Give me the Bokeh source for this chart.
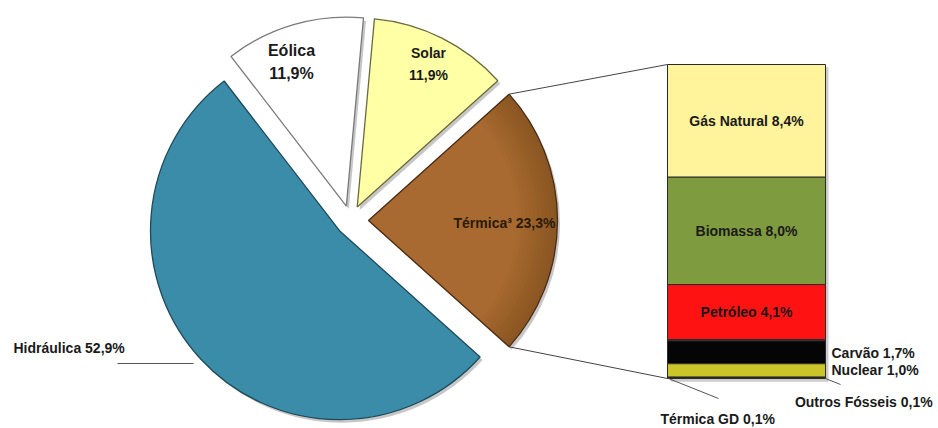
import numpy as np
from bokeh.plotting import figure
from bokeh.models import Range1d, ColumnDataSource
from bokeh.core.properties import value
from bokeh.embed import file_html
from bokeh.resources import INLINE

# ---------------- data ----------------
pie_labels = ["Térmica", "Solar", "Eólica", "Hidráulica"]
pie_values = [23.3, 11.9, 11.9, 52.9]
pie_texts = ["Térmica³ 23,3%", "Solar\n11,9%", "Eólica\n11,9%", "Hidráulica 52,9%"]
pie_colors = ["#A86A31", "#FFFFA6", "#FFFFFF", "#3A8CA8"]
pie_lines = ["#4A2A10", "#6B6B3A", "#7A7A7A", "#1E4A5A"]

bar_labels = ["Gás Natural", "Biomassa", "Petróleo", "Outros Fósseis", "Carvão", "Nuclear", "Térmica GD"]
bar_values = [8.4, 8.0, 4.1, 0.1, 1.7, 1.0, 0.1]
bar_texts = ["Gás Natural 8,4%", "Biomassa 8,0%", "Petróleo 4,1%", "Outros Fósseis  0,1%",
             "Carvão 1,7%", "Nuclear 1,0%", "Térmica GD 0,1%"]
bar_colors = ["#FFF39C", "#7F9B3F", "#FF1212", "#2E6470", "#050505", "#CBC52A", "#101010"]

# ---------------- layout ----------------
W, H = 938, 428
FONT = value("Liberation Sans")
TXT = "#1A1A1A"
FS = "14px"

p = figure(width=W, height=H, output_backend="svg", toolbar_location=None,
           x_range=Range1d(0, W), y_range=Range1d(0, H),
           x_axis_location=None, y_axis_location=None, min_border=0)
p.outline_line_color = None
p.grid.visible = False
p.background_fill_color = "white"

cx, cy, R = 350.0, H - 220.0, 189.0
explode = [18, 15, 15, 15]

total = sum(pie_values)
fr = np.array(pie_values) / total * 2 * np.pi
start0 = -fr[0] / 2
starts = start0 + np.concatenate([[0], np.cumsum(fr)[:-1]])
ends = starts + fr
mids = (starts + ends) / 2
vx = cx + np.array(explode) * np.cos(mids)
vy = cy + np.array(explode) * np.sin(mids)

src = ColumnDataSource(dict(x=vx, y=vy, s=starts, e=ends, c=pie_colors, l=pie_lines))
shadow = ColumnDataSource(dict(x=vx + 2.5, y=vy - 3.0, s=starts, e=ends))
p.wedge(x="x", y="y", radius=R, start_angle="s", end_angle="e", source=shadow,
        fill_color="black", fill_alpha=0.22, line_color=None)
p.wedge(x="x", y="y", radius=R, start_angle="s", end_angle="e", source=src,
        fill_color="c", line_color=None)
# soft darkening towards the rim of the Térmica slice
shade = ColumnDataSource(dict(x=[vx[0]], y=[vy[0]], s=[starts[0]], e=[ends[0]]))
for k in range(10):
    p.annular_wedge(x="x", y="y", inner_radius=R - 40 + 4 * k, outer_radius=R,
                    start_angle="s", end_angle="e", source=shade,
                    fill_color="#3A1A00", fill_alpha=0.025, line_color=None)
p.wedge(x="x", y="y", radius=R, start_angle="s", end_angle="e", source=src,
        fill_color=None, line_color="l", line_width=1.3)

# ---------------- stacked bar (secondary) ----------------
bar_x0, bar_x1 = 667, 825
bar_top_px, bar_bot_px = H - 64, H - 378
btotal = sum(bar_values)
ppu = (bar_top_px - bar_bot_px) / btotal
p.extra_y_ranges = {"bar": Range1d(-bar_bot_px / ppu, btotal + (H - bar_top_px) / ppu)}

tops = btotal - np.concatenate([[0], np.cumsum(bar_values)[:-1]])
bots = tops - np.array(bar_values)
bsrc = ColumnDataSource(dict(l=[bar_x0] * len(bar_values), r=[bar_x1] * len(bar_values),
                             t=tops, b=bots, c=bar_colors))
p.quad(left=[bar_x0 + 3], right=[bar_x1 + 3], top=[btotal - 0.2], bottom=[-0.25],
       y_range_name="bar", fill_color="black", fill_alpha=0.2, line_color=None)
p.quad(left="l", right="r", top="t", bottom="b", source=bsrc, y_range_name="bar",
       fill_color="c", line_color="#2A2A2A", line_width=1)

# labels inside the bar (the three largest segments)
mids_bar = (tops + bots) / 2
p.text(x=[(bar_x0 + bar_x1) / 2] * 3, y=list(mids_bar[:3]), text=bar_texts[:3],
       y_range_name="bar", text_align="center", text_baseline="middle",
       text_font=FONT, text_font_style="bold", text_font_size=FS, text_color=TXT)

# small segment labels
p.text(x=[831, 831], y=[H - 352, H - 369], text=[bar_texts[4], bar_texts[5]],
       text_align="left", text_baseline="middle", text_font=FONT,
       text_font_style="bold", text_font_size=FS, text_color=TXT)
p.text(x=[936], y=[H - 401], text=[bar_texts[3]], text_align="right", text_baseline="middle",
       text_font=FONT, text_font_style="bold", text_font_size=FS, text_color=TXT)
p.text(x=[660], y=[H - 418], text=[bar_texts[6]], text_align="left", text_baseline="middle",
       text_font=FONT, text_font_style="bold", text_font_size=FS, text_color=TXT)
p.segment(x0=[bar_x0 + 1, bar_x1], y0=[bar_bot_px, bar_bot_px],
          x1=[718, 840], y1=[H - 398, H - 384], line_color="#555555", line_width=1)

# connector lines from Térmica slice to bar
tx0 = vx[0] + R * np.cos(ends[0]); ty0 = vy[0] + R * np.sin(ends[0])
tx1 = vx[0] + R * np.cos(starts[0]); ty1 = vy[0] + R * np.sin(starts[0])
p.segment(x0=[tx0, tx1], y0=[ty0, ty1], x1=[bar_x0, bar_x0], y1=[bar_top_px, bar_bot_px],
          line_color="#444444", line_width=1)

# ---------------- pie labels ----------------
p.text(x=[291, 291], y=[H - 50, H - 73], text=["Eólica", "11,9%"], text_align="center",
       text_baseline="middle", text_font=FONT, text_font_style="bold",
       text_font_size="16px", text_color=TXT)
p.text(x=[428, 428], y=[H - 52, H - 74], text=["Solar", "11,9%"], text_align="center",
       text_baseline="middle", text_font=FONT, text_font_style="bold",
       text_font_size=FS, text_color=TXT)
p.text(x=[504], y=[H - 222], text=[pie_texts[0]], text_align="center",
       text_baseline="middle", text_font=FONT, text_font_style="bold",
       text_font_size=FS, text_color="#2A1A0A")
p.text(x=[13], y=[H - 347], text=[pie_texts[3]], text_align="left",
       text_baseline="middle", text_font=FONT, text_font_style="bold",
       text_font_size=FS, text_color=TXT)
p.segment(x0=[117], y0=[H - 363], x1=[193], y1=[H - 363], line_color="#555555", line_width=1)

open("out.html", "w").write(file_html(p, INLINE))
